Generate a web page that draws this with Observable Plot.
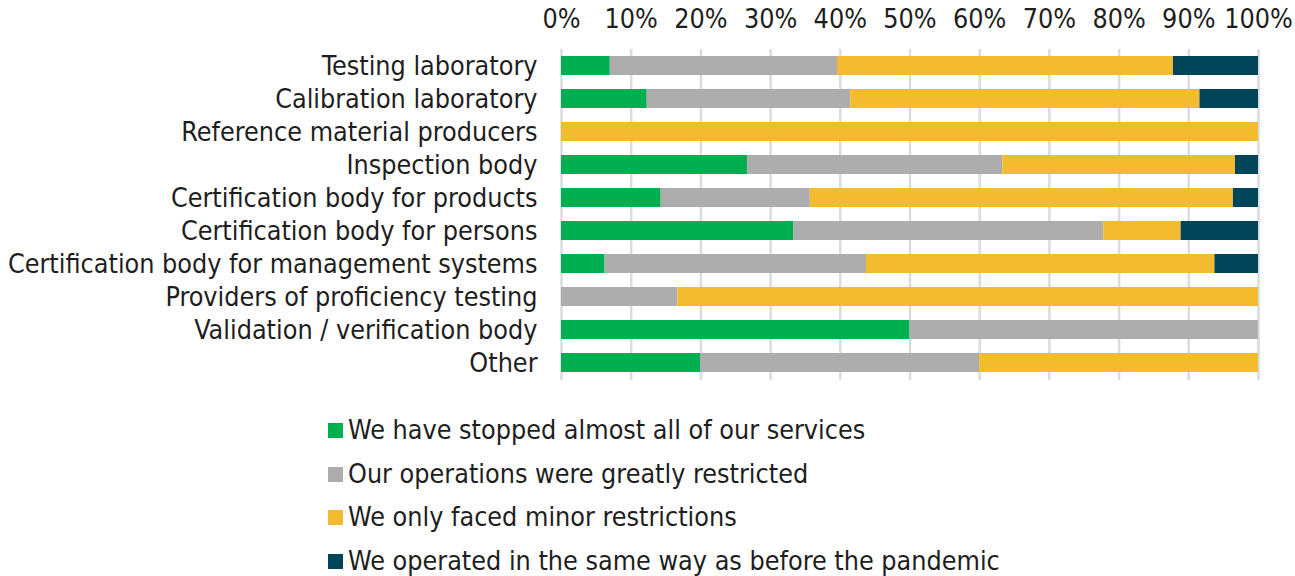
<!DOCTYPE html>
<html>
<head>
<meta charset="utf-8">
<script src="https://cdn.jsdelivr.net/npm/d3@7"></script>
<script src="https://cdn.jsdelivr.net/npm/@observablehq/plot@0.6"></script>
<style>
  body { margin: 0; background: #fff; font-family: "DejaVu Sans Condensed", "DejaVu Sans", sans-serif; overflow: hidden; }
  #chart svg { display: block; }
  #legend { padding-top: 17px; padding-left: 328px; }
  .item { height: 43.5px; display: flex; align-items: center; font-size: 26.7px; line-height: 1; color: #1e1e1e; white-space: nowrap; }
  .sw { width: 15px; height: 15px; margin-right: 5px; flex: none; }
</style>
</head>
<body>
<div id="chart"></div>
<div id="legend"></div>
<script>
const categories = [
  "Testing laboratory",
  "Calibration laboratory",
  "Reference material producers",
  "Inspection body",
  "Certification body for products",
  "Certification body for persons",
  "Certification body for management systems",
  "Providers of proficiency testing",
  "Validation / verification body",
  "Other"
];
const seriesNames = [
  "We have stopped almost all of our services",
  "Our operations were greatly restricted",
  "We only faced minor restrictions",
  "We operated in the same way as before the pandemic"
];
const colors = ["#00B050", "#ADADAD", "#F3BC30", "#00455A"];
const stopped    = [7.0, 12.3, 0, 26.7, 14.3, 33.3, 6.25, 0, 50, 20];
const restricted = [32.6, 29.2, 0, 36.6, 21.4, 44.5, 37.5, 16.7, 50, 40];
const minor      = [48.2, 50.1, 100, 33.4, 60.7, 11.1, 50.0, 83.3, 0, 40];
const same       = [12.2, 8.4, 0, 3.3, 3.6, 11.1, 6.25, 0, 0, 0];
const tickLabels = ["0%","10%","20%","30%","40%","50%","60%","70%","80%","90%","100%"];
const tickValues = [0,10,20,30,40,50,60,70,80,90,100];

const seriesValues = [stopped, restricted, minor, same];
const data = [];
seriesValues.forEach((vals, si) => {
  vals.forEach((v, ci) => {
    data.push({category: categories[ci], series: seriesNames[si], value: v});
  });
});

const plot = Plot.plot({
  width: 1295,
  height: 392,
  marginLeft: 561,
  marginRight: 37,
  marginTop: 49,
  marginBottom: 12,
  style: {fontFamily: '"DejaVu Sans Condensed", "DejaVu Sans", sans-serif', fontSize: "26.7px", color: "#1e1e1e", background: "#fff"},
  x: {domain: [0, 100], axis: "top", ticks: tickValues, tickFormat: (d, i) => tickLabels[i], tickSize: 0, tickPadding: 22, label: null},
  y: {domain: categories, paddingInner: 0.42, paddingOuter: 0.21, tickSize: 0, tickPadding: 24, label: null},
  color: {domain: seriesNames, range: colors},
  marks: [
    Plot.ruleX(tickValues, {stroke: "#D6DDE3", strokeWidth: 2.5}),
    Plot.barX(data, Plot.stackX({y: "category", x: "value", fill: "series", order: seriesNames}))
  ]
});
document.getElementById("chart").appendChild(plot);

const legend = document.getElementById("legend");
seriesNames.forEach((name, i) => {
  const item = document.createElement("div");
  item.className = "item";
  const sw = document.createElement("span");
  sw.className = "sw";
  sw.style.background = colors[i];
  const t = document.createElement("span");
  t.textContent = name;
  item.appendChild(sw);
  item.appendChild(t);
  legend.appendChild(item);
});
</script>
</body>
</html>
